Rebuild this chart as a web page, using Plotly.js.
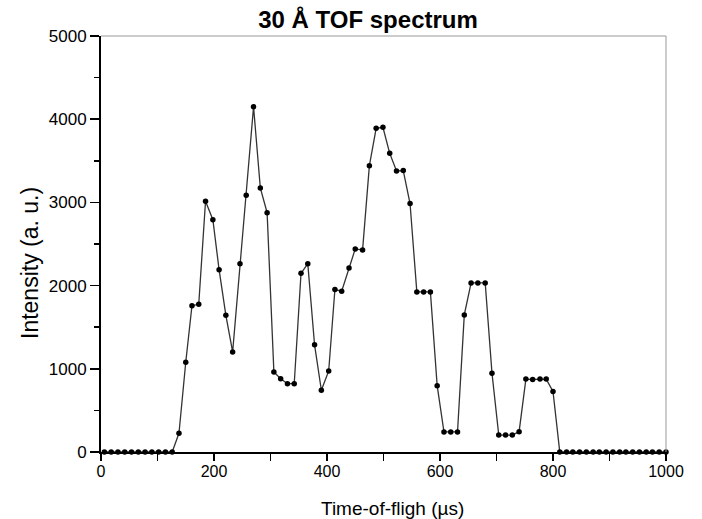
<!DOCTYPE html>
<html>
<head>
<meta charset="utf-8">
<script src="https://cdn.plot.ly/plotly-3.0.1.min.js"></script>
<style>html,body{margin:0;padding:0;background:#fff;}#chart{width:702px;height:519px;}</style>
</head>
<body>
<div id="chart"></div>
<script>
const timeOfFlight = [6,18,30,42,54,66,78,90,102,114,126,
  138,150,161,173,185,198,209,221,233,246,257,270,282,294,306,318,330,342,354,366,
  378,390,403,414,426,439,450,463,475,487,499,511,523,535,547,559,571,583,595,607,
  619,631,643,655,667,680,692,704,716,728,740,752,764,777,788,800,
  812,824,835,847,859,871,882,894,906,918,929,941,953,965,976,988,1000];
const intensity = [0,0,0,0,0,0,0,0,0,0,0,
  225,1078,1758,1775,3013,2792,2191,1643,1202,2263,3085,4150,3173,2876,962,881,821,821,2147,2263,
  1288,742,974,1953,1933,2213,2441,2429,3442,3890,3902,3590,3378,3382,2986,1924,1924,1924,797,241,
  241,241,1648,2032,2032,2032,948,203,203,203,244,876,872,876,876,728,
  0,0,0,0,0,0,0,0,0,0,0,0,0,0,0,0,0];
const xTickValues = [0,200,400,600,800,1000];
const yTickValues = [0,1000,2000,3000,4000,5000];
const chartTitle = '30 Å TOF spectrum';
const xTitle = 'Time-of-fligh (µs)';
const yTitle = 'Intensity (a. u.)';

const font = 'Liberation Sans, Arial, sans-serif';
const W = 702, H = 519;
const trace = {
  x: timeOfFlight, y: intensity, type: 'scatter', mode: 'lines+markers',
  line: {color: '#333', width: 1.3},
  marker: {color: '#000', size: 5.5},
  cliponaxis: false, hoverinfo: 'skip'
};
const layout = {
  width: W, height: H,
  margin: {l: 101, r: 36, t: 36, b: 67},
  paper_bgcolor: '#fff', plot_bgcolor: '#fff',
  showlegend: false,
  font: {family: font, color: '#000'},
  title: {text: '<b>' + chartTitle + '</b>', font: {family: font, size: 24, color: '#000'},
          x: 368 / W, xanchor: 'center', y: 1 - 20 / H, yanchor: 'middle'},
  xaxis: {
    range: [0, 1000], tickvals: xTickValues, ticktext: xTickValues.map(String),
    ticks: 'outside', ticklen: 7, tickwidth: 1.5, tickcolor: '#000',
    minor: {tickvals: [100,300,500,700,900], ticks: 'outside', ticklen: 7, tickwidth: 1.5, tickcolor: '#000'},
    showline: true, linecolor: '#000', linewidth: 2, showgrid: false, zeroline: false,
    tickfont: {size: 16, color: '#000', family: font},
    ticklabelstandoff: -3
  },
  yaxis: {
    range: [0, 5000], tickvals: yTickValues, ticktext: yTickValues.map(String),
    ticks: 'outside', ticklen: 9, tickwidth: 1.5, tickcolor: '#000',
    minor: {tickvals: [500,1500,2500,3500,4500], ticks: 'outside', ticklen: 5, tickwidth: 1.5, tickcolor: '#000'},
    showline: true, linecolor: '#000', linewidth: 2, showgrid: false, zeroline: false,
    tickfont: {size: 17, color: '#000', family: font}
  },
  annotations: [
    {text: xTitle, xref: 'paper', yref: 'paper', x: (392 - 101) / (W - 101 - 36), y: -(508 - 452) / (452 - 36),
     xanchor: 'center', yanchor: 'middle', showarrow: false, font: {size: 19, color: '#000', family: font}},
    {text: yTitle, xref: 'paper', yref: 'paper', x: -(101 - 30) / (W - 101 - 36), y: (452 - 263) / (452 - 36),
     xanchor: 'center', yanchor: 'middle', textangle: -90, showarrow: false, font: {size: 23, color: '#000', family: font}}
  ],
  shapes: [
    {type: 'line', xref: 'paper', yref: 'paper', x0: 0, x1: 1, y0: 1, y1: 1, line: {color: '#999', width: 1}},
    {type: 'line', xref: 'paper', yref: 'paper', x0: 1, x1: 1, y0: 0, y1: 1, line: {color: '#999', width: 1}}
  ]
};
Plotly.newPlot('chart', [trace], layout, {displayModeBar: false, staticPlot: true});
</script>
</body>
</html>
